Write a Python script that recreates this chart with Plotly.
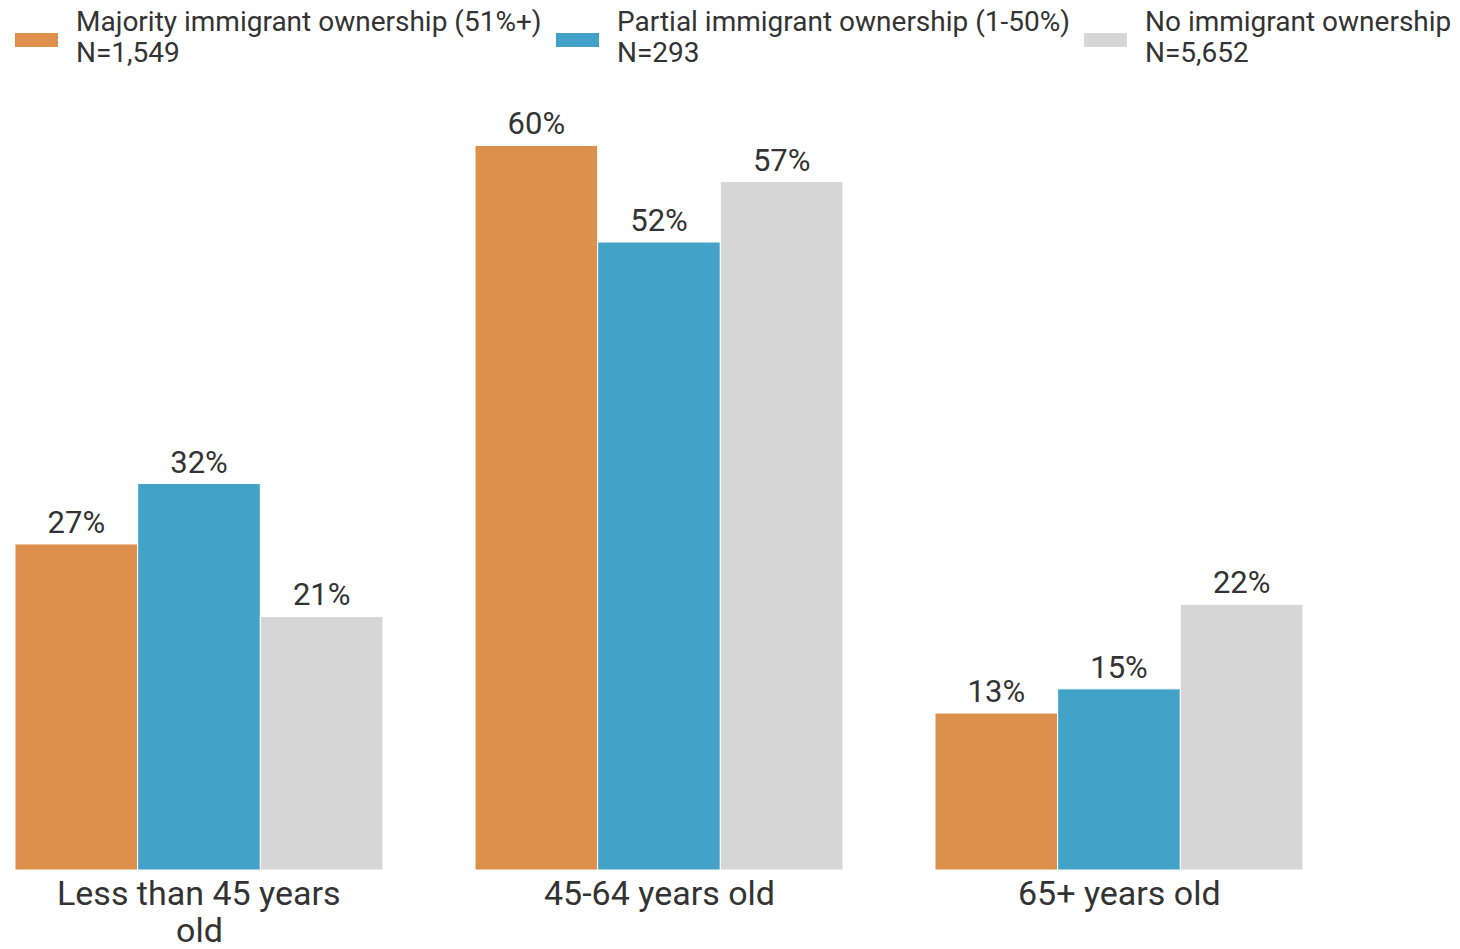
import plotly.graph_objects as go

age_groups = ["Less than 45 years old", "45-64 years old", "65+ years old"]
age_label_lines = [["Less than 45 years", "old"], ["45-64 years old"], ["65+ years old"]]
series_names = [
    "Majority immigrant ownership (51%+)",
    "Partial immigrant ownership (1-50%)",
    "No immigrant ownership",
]
series_n = ["N=1,549", "N=293", "N=5,652"]
majority = [27, 60, 13]
partial = [32, 52, 15]
none_owned = [21, 57, 22]
colors = ["#DC904C", "#43A2C7", "#D6D6D6"]

W, H = 1460, 949
L, R, T, B = 15, 157, 85, 79
FONT = dict(family="Roboto, sans-serif", color="#333333")


def px_x(x):
    return (x - L) / (W - L - R)


def px_y(y):
    return (H - B - y) / (H - T - B)


fig = go.Figure()
for name, vals, col in zip(series_names, [majority, partial, none_owned], colors):
    fig.add_trace(go.Bar(
        x=age_groups,
        y=vals,
        name=name,
        marker=dict(color=col, line=dict(color="white", width=1)),
        text=[f"{v}%" for v in vals],
        textposition="outside",
        textfont=dict(FONT, size=31),
        cliponaxis=False,
        showlegend=False,
    ))

# category labels as annotations so the wrapped line sits tight
for cat, lines in zip(age_groups, age_label_lines):
    for i, line in enumerate(lines):
        fig.add_annotation(
            x=cat, xref="x", yref="paper", y=px_y(893 + 37 * i),
            text=line, showarrow=False, xanchor="center", yanchor="middle",
            font=dict(FONT, size=34),
        )

# legend drawn by hand: wide flat swatches with two-line labels
swatch_left = [15, 556, 1084]
for x0, name, n, col in zip(swatch_left, series_names, series_n, colors):
    fig.add_shape(
        type="rect", xref="paper", yref="paper",
        x0=px_x(x0), x1=px_x(x0 + 43), y0=px_y(47), y1=px_y(33),
        fillcolor=col, line=dict(width=0),
    )
    for txt, yc in [(name, 21), (n, 52)]:
        fig.add_annotation(
            xref="paper", yref="paper", x=px_x(x0 + 59), y=px_y(yc),
            text=txt, showarrow=False, align="left",
            xanchor="left", yanchor="middle",
            font=dict(FONT, size=28),
        )

fig.update_layout(
    width=W,
    height=H,
    barmode="group",
    bargap=0.2,
    bargroupgap=0,
    template="plotly_white",
    font=FONT,
    margin=dict(l=L, r=R, t=T, b=B),
    plot_bgcolor="white",
    paper_bgcolor="white",
    xaxis=dict(range=[-0.4, 2.4], showgrid=False, showline=False, ticks="",
               showticklabels=False),
    yaxis=dict(range=[0, 65], visible=False, showgrid=False),
)

# drop the default 8px body margin so the figure sits at the page corner
fig.write_html(
    "out.html",
    config={"displayModeBar": False},
    post_script="document.body.style.margin='0px';",
)
